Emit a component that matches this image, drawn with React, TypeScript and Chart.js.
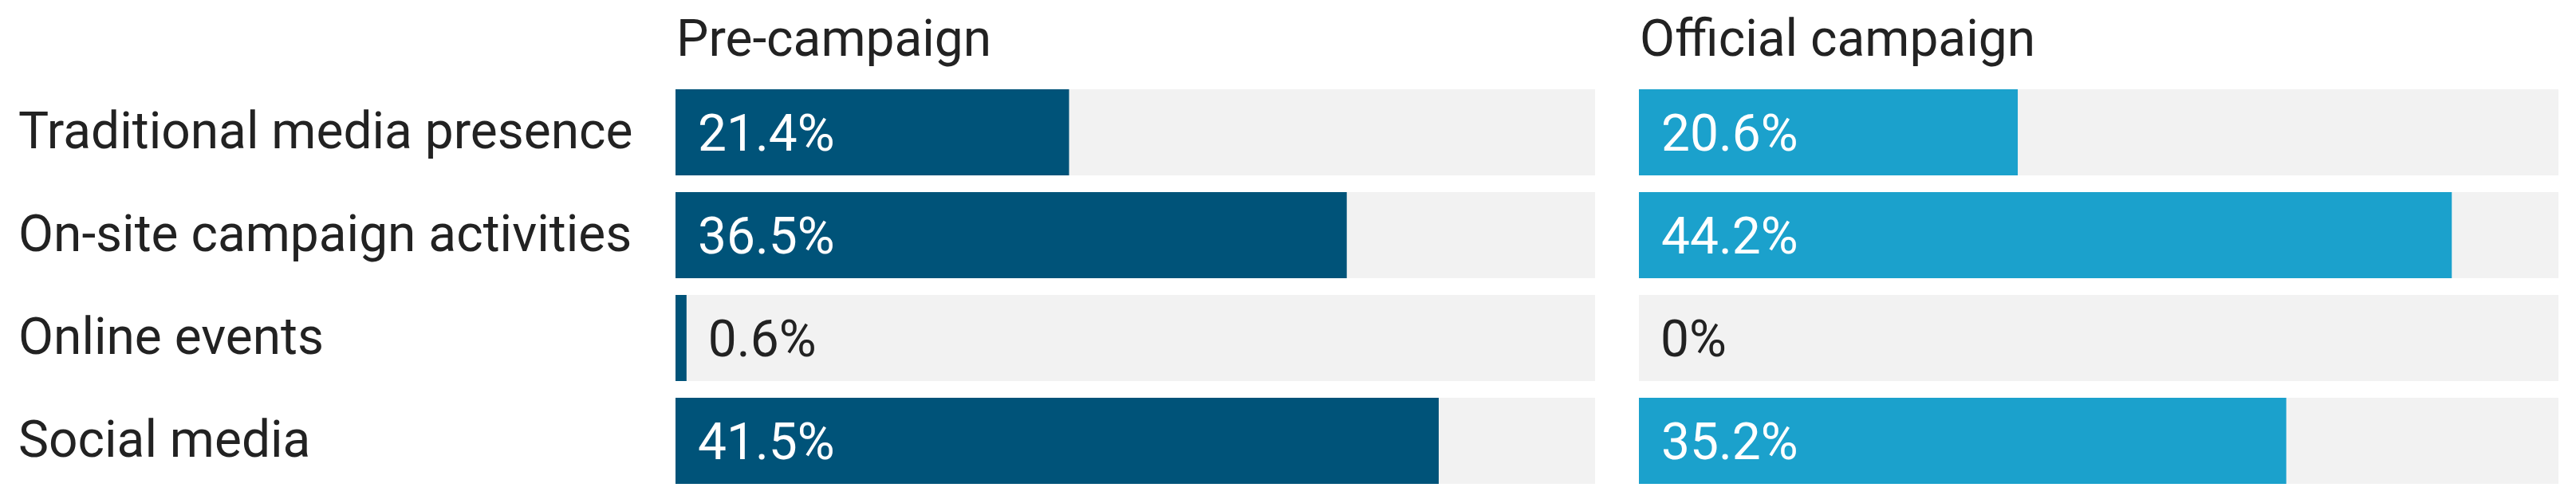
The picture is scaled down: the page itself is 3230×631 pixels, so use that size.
import React, { useEffect, useRef } from "react";
import { Chart, registerables } from "chart.js";

Chart.register(...registerables);

const categories = [
  "Traditional media presence",
  "On-site campaign activities",
  "Online events",
  "Social media",
];
const panelTitles = ["Pre-campaign", "Official campaign"];
const preCampaign = [21.4, 36.5, 0.6, 41.5];
const officialCampaign = [20.6, 44.2, 0, 35.2];
const axisMax = 50;
const panelColors = ["#005379", "#1ba1cc"];

const FONT = "Roboto, 'Noto Sans', sans-serif";
const FS = 64;

function makeChart(
  canvas: HTMLCanvasElement,
  values: number[],
  color: string,
  title: string,
  showLabels: boolean,
  padLeft: number,
  padRight: number
) {
  const track = values.map(() => axisMax);
  const labelPlugin = {
    id: "valueLabels",
    afterDatasetsDraw(chart: any) {
      const ctx = chart.ctx;
      const meta = chart.getDatasetMeta(0);
      ctx.save();
      ctx.font = `${FS}px ${FONT}`;
      ctx.textBaseline = "alphabetic";
      ctx.textAlign = "left";
      const cap = FS * 0.711;
      meta.data.forEach((bar: any, i: number) => {
        const v = values[i];
        const txt = v === 0 ? "0%" : `${v.toFixed(1)}%`;
        const w = ctx.measureText(txt).width;
        const left = Math.min(bar.base, bar.x);
        const right = Math.max(bar.base, bar.x);
        const y = bar.y + cap / 2;
        if (right - left > w + 56) {
          ctx.fillStyle = "#ffffff";
          ctx.fillText(txt, left + 28, y);
        } else {
          ctx.fillStyle = "#222222";
          ctx.fillText(txt, right + 27, y);
        }
      });
      // panel title
      ctx.fillStyle = "#222222";
      ctx.fillText(title, chart.chartArea.left + 1, 70);
      ctx.restore();
    },
  };

  return new Chart(canvas, {
    type: "bar",
    data: {
      labels: categories,
      datasets: [
        {
          data: values,
          backgroundColor: color,
          grouped: false,
          order: 0,
          categoryPercentage: 1,
          barPercentage: 108 / 129,
        } as any,
        {
          data: track,
          backgroundColor: "#f2f2f2",
          grouped: false,
          order: 1,
          categoryPercentage: 1,
          barPercentage: 108 / 129,
        } as any,
      ],
    },
    options: {
      indexAxis: "y",
      responsive: false,
      animation: false,
      layout: {
        padding: { top: 101.5, bottom: 13.5, left: padLeft, right: padRight },
      },
      plugins: {
        legend: { display: false },
        tooltip: { enabled: false },
        title: { display: false },
      },
      scales: {
        x: {
          display: false,
          min: 0,
          max: axisMax,
          grid: { display: false },
        },
        y: {
          display: showLabels,
          grid: { display: false },
          border: { display: false },
          afterFit: (scale: any) => {
            if (showLabels) scale.width = 847 - padLeft;
          },
          ticks: {
            crossAlign: "far",
            color: "#222222",
            padding: 0,
            labelOffset: 4,
            font: { family: FONT, size: FS, lineHeight: 0.3 },
          },
        },
      },
    },
    plugins: [labelPlugin],
  } as any);
}

export default function App() {
  const leftRef = useRef<HTMLCanvasElement>(null);
  const rightRef = useRef<HTMLCanvasElement>(null);

  useEffect(() => {
    document.body.style.margin = "0";
    const c1 = makeChart(leftRef.current!, preCampaign, panelColors[0], panelTitles[0], true, 23, 0);
    const c2 = makeChart(rightRef.current!, officialCampaign, panelColors[1], panelTitles[1], false, 55, 22);
    return () => {
      c1.destroy();
      c2.destroy();
    };
  }, []);

  return (
    <div style={{ position: "relative", width: 3230, height: 631, background: "#ffffff" }}>
      <canvas ref={leftRef} width={2000} height={631} style={{ position: "absolute", left: 0, top: 0 }} />
      <canvas ref={rightRef} width={1230} height={631} style={{ position: "absolute", left: 2000, top: 0 }} />
    </div>
  );
}
